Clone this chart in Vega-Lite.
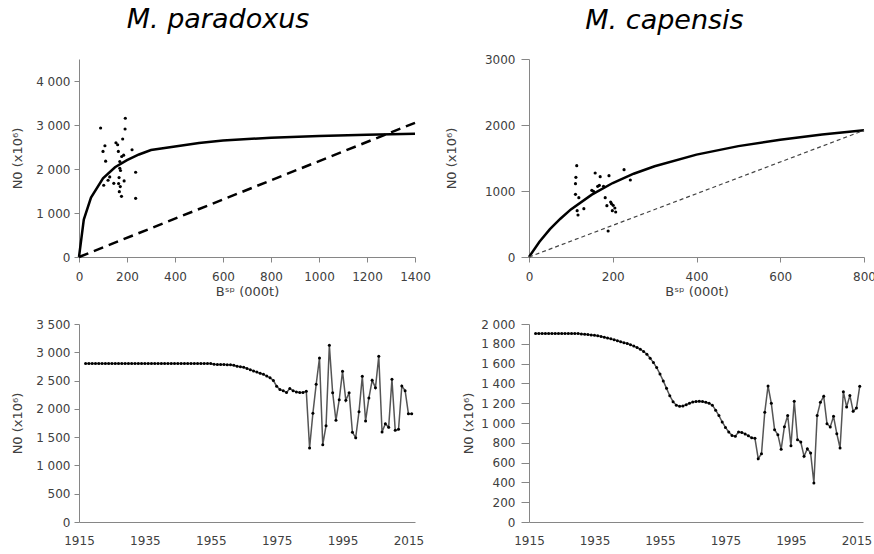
{
  "$schema": "https://vega.github.io/schema/vega-lite/v6.json",
  "background": "white",
  "padding": {"left": 11, "top": 6, "right": 0, "bottom": 0},
  "columns": 2,
  "spacing": {"row": 20, "column": 14},
  "config": {
    "font": "DejaVu Sans",
    "view": {"stroke": null},
    "axis": {"domainColor": "#868686", "tickColor": "#868686", "labelColor": "#404040", "titleColor": "#404040", "labelFont": "DejaVu Sans", "titleFont": "DejaVu Sans", "labelFontSize": 12, "titleFontSize": 13, "titleFontWeight": "normal", "grid": false, "tickSize": 5, "labelPadding": 4, "labelFlush": false},
    "axisX": {"labelPadding": 9, "titlePadding": 3, "labelFlush": false},
    "title": {"font": "DejaVu Sans", "fontSize": 27, "fontStyle": "italic", "fontWeight": "normal", "color": "#000000"}
  },
  "concat": [
        {
          "width": 336, "height": 198,
          "title": {"text": "M. paradoxus", "anchor": "middle", "frame": "group", "dx": -29, "offset": 25},
          "layer": [
            {
              "data": {"values": [
                {"b": 0, "n": 0}, {"b": 20, "n": 850}, {"b": 50, "n": 1350}, {"b": 100, "n": 1790}, {"b": 150, "n": 2040}, {"b": 200, "n": 2200}, {"b": 250, "n": 2330}, {"b": 300, "n": 2430}, {"b": 400, "n": 2510}, {"b": 500, "n": 2590}, {"b": 600, "n": 2650}, {"b": 800, "n": 2710}, {"b": 1000, "n": 2750}, {"b": 1200, "n": 2780}, {"b": 1400, "n": 2800}
              ]},
              "mark": {"type": "line", "color": "black", "strokeWidth": 2.5},
              "encoding": {
                "x": {"field": "b", "type": "quantitative", "scale": {"domain": [0, 1400], "nice": false}, "axis": {"values": [0, 200, 400, 600, 800, 1000, 1200, 1400], "format": "d", "title": "Bˢᵖ (000t)"}},
                "y": {"field": "n", "type": "quantitative", "scale": {"domain": [0, 4500], "nice": false}, "axis": {"values": [0, 500, 1000, 1500, 2000, 2500, 3000, 3500, 4000, 4500], "labelExpr": "replace(format(datum.value, ','), ',', ' ')", "title": "N0 (x10⁶)", "titlePadding": 11}}
              }
            },
            {
              "data": {"values": [{"b": 0, "n": 0}, {"b": 1400, "n": 3050}]},
              "mark": {"type": "line", "color": "black", "strokeWidth": 2.5, "strokeDash": [10, 6]},
              "encoding": {"x": {"field": "b", "type": "quantitative"}, "y": {"field": "n", "type": "quantitative"}}
            },
            {
              "data": {"values": [
                {"b": 90, "n": 2932}, {"b": 100, "n": 2399}, {"b": 108, "n": 2528}, {"b": 111, "n": 2178}, {"b": 103, "n": 1630}, {"b": 121, "n": 1744}, {"b": 128, "n": 1820}, {"b": 145, "n": 1675}, {"b": 154, "n": 2597}, {"b": 161, "n": 2551}, {"b": 164, "n": 2399}, {"b": 170, "n": 2170}, {"b": 170, "n": 2018}, {"b": 167, "n": 1805}, {"b": 172, "n": 1600}, {"b": 165, "n": 1668}, {"b": 168, "n": 1485}, {"b": 177, "n": 1378}, {"b": 182, "n": 2681}, {"b": 186, "n": 2315}, {"b": 178, "n": 2285}, {"b": 188, "n": 1729}, {"b": 192, "n": 2909}, {"b": 193, "n": 3153}, {"b": 221, "n": 2437}, {"b": 236, "n": 1927}, {"b": 236, "n": 1333}, {"b": 173, "n": 1965}
              ]},
              "mark": {"type": "circle", "color": "black", "size": 10, "opacity": 1},
              "encoding": {"x": {"field": "b", "type": "quantitative"}, "y": {"field": "n", "type": "quantitative"}}
            }
          ]
        },
        {
          "width": 335, "height": 198,
          "title": {"text": "M. capensis", "anchor": "middle", "frame": "group", "dx": -32, "offset": 18},
          "layer": [
            {
              "data": {"values": [
                {"b": 0, "n": 0}, {"b": 25, "n": 231}, {"b": 50, "n": 421}, {"b": 75, "n": 580}, {"b": 100, "n": 721}, {"b": 150, "n": 945}, {"b": 200, "n": 1121}, {"b": 250, "n": 1262}, {"b": 300, "n": 1374}, {"b": 400, "n": 1551}, {"b": 500, "n": 1680}, {"b": 600, "n": 1778}, {"b": 700, "n": 1855}, {"b": 800, "n": 1919}
              ]},
              "mark": {"type": "line", "color": "black", "strokeWidth": 2.5},
              "encoding": {
                "x": {"field": "b", "type": "quantitative", "scale": {"domain": [0, 800], "nice": false}, "axis": {"values": [0, 200, 400, 600, 800], "format": "d", "title": "Bˢᵖ (000t)"}},
                "y": {"field": "n", "type": "quantitative", "scale": {"domain": [0, 3000], "nice": false}, "axis": {"values": [0, 500, 1000, 1500, 2000, 2500, 3000], "format": "d", "title": "N0 (x10⁶)", "tickSize": 8, "labelPadding": 6, "titlePadding": 26}}
              }
            },
            {
              "data": {"values": [{"b": 0, "n": 0}, {"b": 800, "n": 1919}]},
              "mark": {"type": "line", "color": "#444444", "strokeWidth": 1.2, "strokeDash": [4, 3]},
              "encoding": {"x": {"field": "b", "type": "quantitative"}, "y": {"field": "n", "type": "quantitative"}}
            },
            {
              "data": {"values": [
                {"b": 114, "n": 1384}, {"b": 112, "n": 1207}, {"b": 111, "n": 1111}, {"b": 111, "n": 949}, {"b": 119, "n": 899}, {"b": 115, "n": 702}, {"b": 117, "n": 636}, {"b": 131, "n": 732}, {"b": 154, "n": 995}, {"b": 158, "n": 1273}, {"b": 164, "n": 1071}, {"b": 168, "n": 1086}, {"b": 170, "n": 1217}, {"b": 178, "n": 1071}, {"b": 182, "n": 899}, {"b": 186, "n": 778}, {"b": 191, "n": 1232}, {"b": 195, "n": 833}, {"b": 197, "n": 808}, {"b": 201, "n": 783}, {"b": 199, "n": 702}, {"b": 205, "n": 742}, {"b": 207, "n": 682}, {"b": 189, "n": 394}, {"b": 227, "n": 1323}, {"b": 242, "n": 1167}, {"b": 150, "n": 1010}
              ]},
              "mark": {"type": "circle", "color": "black", "size": 10, "opacity": 1},
              "encoding": {"x": {"field": "b", "type": "quantitative"}, "y": {"field": "n", "type": "quantitative"}}
            }
          ]
        },
        {
          "width": 336, "height": 198,
          "data": {"values": [
            {"year": 1917, "n": 2800}, {"year": 1918, "n": 2800}, {"year": 1919, "n": 2800}, {"year": 1920, "n": 2800}, {"year": 1921, "n": 2800}, {"year": 1922, "n": 2800}, {"year": 1923, "n": 2800}, {"year": 1924, "n": 2800}, {"year": 1925, "n": 2800}, {"year": 1926, "n": 2800},
            {"year": 1927, "n": 2800}, {"year": 1928, "n": 2800}, {"year": 1929, "n": 2800}, {"year": 1930, "n": 2800}, {"year": 1931, "n": 2800}, {"year": 1932, "n": 2800}, {"year": 1933, "n": 2800}, {"year": 1934, "n": 2800}, {"year": 1935, "n": 2800}, {"year": 1936, "n": 2800},
            {"year": 1937, "n": 2800}, {"year": 1938, "n": 2800}, {"year": 1939, "n": 2800}, {"year": 1940, "n": 2800}, {"year": 1941, "n": 2800}, {"year": 1942, "n": 2800}, {"year": 1943, "n": 2800}, {"year": 1944, "n": 2800}, {"year": 1945, "n": 2800}, {"year": 1946, "n": 2800},
            {"year": 1947, "n": 2800}, {"year": 1948, "n": 2800}, {"year": 1949, "n": 2800}, {"year": 1950, "n": 2800}, {"year": 1951, "n": 2800}, {"year": 1952, "n": 2800}, {"year": 1953, "n": 2800}, {"year": 1954, "n": 2800}, {"year": 1955, "n": 2800}, {"year": 1956, "n": 2790},
            {"year": 1957, "n": 2785}, {"year": 1958, "n": 2785}, {"year": 1959, "n": 2785}, {"year": 1960, "n": 2780}, {"year": 1961, "n": 2780}, {"year": 1962, "n": 2770}, {"year": 1963, "n": 2755}, {"year": 1964, "n": 2745}, {"year": 1965, "n": 2735}, {"year": 1966, "n": 2715},
            {"year": 1967, "n": 2690}, {"year": 1968, "n": 2670}, {"year": 1969, "n": 2650}, {"year": 1970, "n": 2630}, {"year": 1971, "n": 2610}, {"year": 1972, "n": 2580}, {"year": 1973, "n": 2550}, {"year": 1974, "n": 2500}, {"year": 1975, "n": 2400}, {"year": 1976, "n": 2340},
            {"year": 1977, "n": 2320}, {"year": 1978, "n": 2290}, {"year": 1979, "n": 2360}, {"year": 1980, "n": 2320}, {"year": 1981, "n": 2300}, {"year": 1982, "n": 2290}, {"year": 1983, "n": 2290}, {"year": 1984, "n": 2310}, {"year": 1985, "n": 1308}, {"year": 1986, "n": 1921},
            {"year": 1987, "n": 2434}, {"year": 1988, "n": 2899}, {"year": 1989, "n": 1367}, {"year": 1990, "n": 1703}, {"year": 1991, "n": 3123}, {"year": 1992, "n": 2286}, {"year": 1993, "n": 1797}, {"year": 1994, "n": 2163}, {"year": 1995, "n": 2664}, {"year": 1996, "n": 2151},
            {"year": 1997, "n": 2286}, {"year": 1998, "n": 1585}, {"year": 1999, "n": 1491}, {"year": 2000, "n": 1950}, {"year": 2001, "n": 2575}, {"year": 2002, "n": 1786}, {"year": 2003, "n": 2192}, {"year": 2004, "n": 2504}, {"year": 2005, "n": 2375}, {"year": 2006, "n": 2929},
            {"year": 2007, "n": 1591}, {"year": 2008, "n": 1738}, {"year": 2009, "n": 1673}, {"year": 2010, "n": 2522}, {"year": 2011, "n": 1620}, {"year": 2012, "n": 1638}, {"year": 2013, "n": 2404}, {"year": 2014, "n": 2322}, {"year": 2015, "n": 1915}, {"year": 2016, "n": 1915}
          ]},
          "mark": {"type": "line", "color": "#555555", "strokeWidth": 1.5, "point": {"filled": true, "color": "black", "size": 9}},
          "encoding": {
            "x": {"field": "year", "type": "quantitative", "scale": {"domain": [1915, 2017], "nice": false, "zero": false}, "axis": {"values": [1915, 1935, 1955, 1975, 1995, 2015], "format": "d", "ticks": false, "title": null, "labelPadding": 13.5}},
            "y": {"field": "n", "type": "quantitative", "scale": {"domain": [0, 3500], "nice": false}, "axis": {"values": [0, 500, 1000, 1500, 2000, 2500, 3000, 3500], "labelExpr": "replace(format(datum.value, ','), ',', ' ')", "title": "N0 (x10⁶)", "titlePadding": 11}}
          }
        },
        {
          "width": 334, "height": 198,
          "data": {"values": [
            {"year": 1917, "n": 1905}, {"year": 1918, "n": 1905}, {"year": 1919, "n": 1905}, {"year": 1920, "n": 1905}, {"year": 1921, "n": 1905}, {"year": 1922, "n": 1905}, {"year": 1923, "n": 1905}, {"year": 1924, "n": 1905}, {"year": 1925, "n": 1905}, {"year": 1926, "n": 1905},
            {"year": 1927, "n": 1905}, {"year": 1928, "n": 1905}, {"year": 1929, "n": 1905}, {"year": 1930, "n": 1903}, {"year": 1931, "n": 1900}, {"year": 1932, "n": 1897}, {"year": 1933, "n": 1893}, {"year": 1934, "n": 1890}, {"year": 1935, "n": 1886}, {"year": 1936, "n": 1882},
            {"year": 1937, "n": 1875}, {"year": 1938, "n": 1866}, {"year": 1939, "n": 1858}, {"year": 1940, "n": 1850}, {"year": 1941, "n": 1840}, {"year": 1942, "n": 1830}, {"year": 1943, "n": 1820}, {"year": 1944, "n": 1810}, {"year": 1945, "n": 1803}, {"year": 1946, "n": 1790},
            {"year": 1947, "n": 1777}, {"year": 1948, "n": 1763}, {"year": 1949, "n": 1745}, {"year": 1950, "n": 1722}, {"year": 1951, "n": 1695}, {"year": 1952, "n": 1655}, {"year": 1953, "n": 1610}, {"year": 1954, "n": 1560}, {"year": 1955, "n": 1495}, {"year": 1956, "n": 1425},
            {"year": 1957, "n": 1350}, {"year": 1958, "n": 1275}, {"year": 1959, "n": 1215}, {"year": 1960, "n": 1180}, {"year": 1961, "n": 1170}, {"year": 1962, "n": 1172}, {"year": 1963, "n": 1185}, {"year": 1964, "n": 1200}, {"year": 1965, "n": 1212}, {"year": 1966, "n": 1218},
            {"year": 1967, "n": 1220}, {"year": 1968, "n": 1218}, {"year": 1969, "n": 1210}, {"year": 1970, "n": 1200}, {"year": 1971, "n": 1180}, {"year": 1972, "n": 1130}, {"year": 1973, "n": 1075}, {"year": 1974, "n": 1010}, {"year": 1975, "n": 955}, {"year": 1976, "n": 910},
            {"year": 1977, "n": 875}, {"year": 1978, "n": 865}, {"year": 1979, "n": 910}, {"year": 1980, "n": 905}, {"year": 1981, "n": 890}, {"year": 1982, "n": 870}, {"year": 1983, "n": 850}, {"year": 1984, "n": 845}, {"year": 1985, "n": 640}, {"year": 1986, "n": 690},
            {"year": 1987, "n": 1108}, {"year": 1988, "n": 1374}, {"year": 1989, "n": 1199}, {"year": 1990, "n": 933}, {"year": 1991, "n": 882}, {"year": 1992, "n": 734}, {"year": 1993, "n": 963}, {"year": 1994, "n": 1077}, {"year": 1995, "n": 771}, {"year": 1996, "n": 1219},
            {"year": 1997, "n": 832}, {"year": 1998, "n": 808}, {"year": 1999, "n": 663}, {"year": 2000, "n": 741}, {"year": 2001, "n": 697}, {"year": 2002, "n": 394}, {"year": 2003, "n": 1077}, {"year": 2004, "n": 1209}, {"year": 2005, "n": 1269}, {"year": 2006, "n": 993},
            {"year": 2007, "n": 960}, {"year": 2008, "n": 1067}, {"year": 2009, "n": 892}, {"year": 2010, "n": 747}, {"year": 2011, "n": 1316}, {"year": 2012, "n": 1162}, {"year": 2013, "n": 1279}, {"year": 2014, "n": 1118}, {"year": 2015, "n": 1151}, {"year": 2016, "n": 1370}
          ]},
          "mark": {"type": "line", "color": "#555555", "strokeWidth": 1.5, "point": {"filled": true, "color": "black", "size": 9}},
          "encoding": {
            "x": {"field": "year", "type": "quantitative", "scale": {"domain": [1915, 2017], "nice": false, "zero": false}, "axis": {"values": [1915, 1935, 1955, 1975, 1995, 2015], "format": "d", "ticks": false, "title": null, "labelPadding": 13.5}},
            "y": {"field": "n", "type": "quantitative", "scale": {"domain": [0, 2000], "nice": false}, "axis": {"values": [0, 200, 400, 600, 800, 1000, 1200, 1400, 1600, 1800, 2000], "labelExpr": "replace(format(datum.value, ','), ',', ' ')", "title": "N0 (x10⁶)", "tickSize": 8, "labelPadding": 6, "titlePadding": 5}}
          }
        }
  ]
}
